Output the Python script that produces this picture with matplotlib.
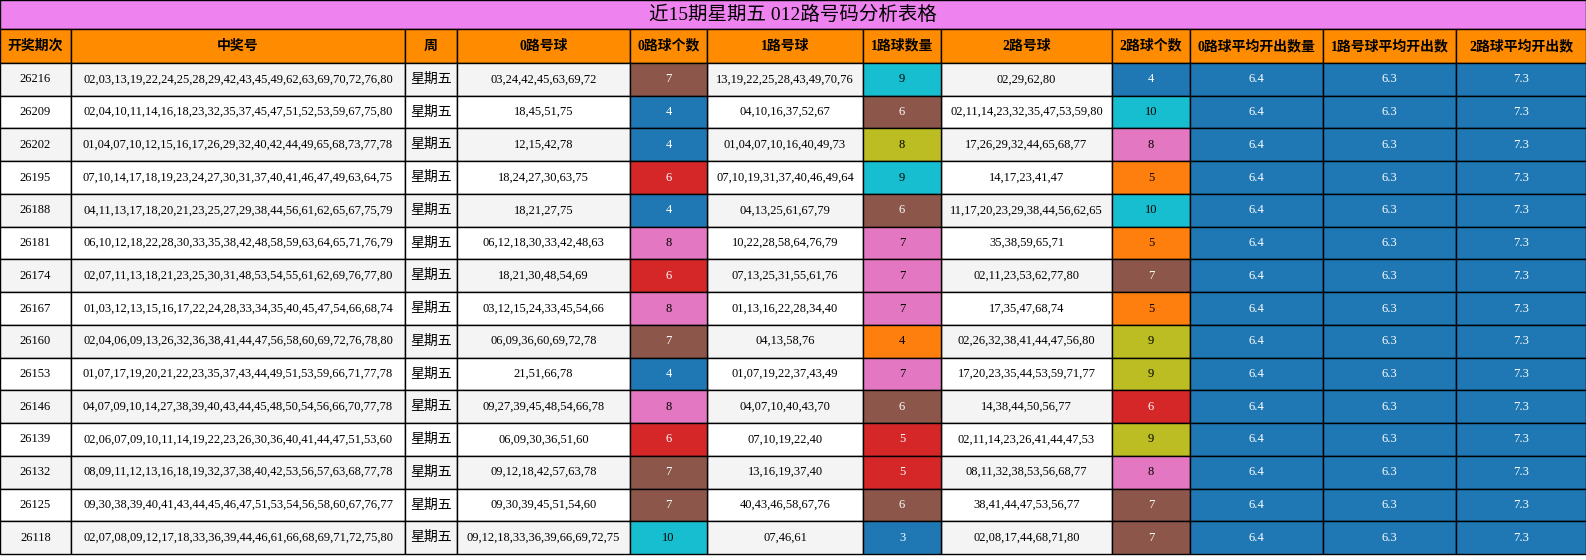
import numpy as np
import matplotlib.pyplot as plt
from matplotlib.patches import Rectangle

plt.rcParams['font.family'] = ['Liberation Serif', 'Noto Sans CJK SC', 'DejaVu Sans']

title = '近15期星期五 012路号码分析表格'
headers = ['开奖期次', '中奖号', '周', '0路号球', '0路球个数', '1路号球', '1路球数量',
           '2路号球', '2路球个数', '0路球平均开出数量', '1路号球平均开出数', '2路球平均开出数']

periods = ['26216', '26209', '26202', '26195', '26188', '26181', '26174', '26167',
           '26160', '26153', '26146', '26139', '26132', '26125', '26118']
draws = [
    '02,03,13,19,22,24,25,28,29,42,43,45,49,62,63,69,70,72,76,80',
    '02,04,10,11,14,16,18,23,32,35,37,45,47,51,52,53,59,67,75,80',
    '01,04,07,10,12,15,16,17,26,29,32,40,42,44,49,65,68,73,77,78',
    '07,10,14,17,18,19,23,24,27,30,31,37,40,41,46,47,49,63,64,75',
    '04,11,13,17,18,20,21,23,25,27,29,38,44,56,61,62,65,67,75,79',
    '06,10,12,18,22,28,30,33,35,38,42,48,58,59,63,64,65,71,76,79',
    '02,07,11,13,18,21,23,25,30,31,48,53,54,55,61,62,69,76,77,80',
    '01,03,12,13,15,16,17,22,24,28,33,34,35,40,45,47,54,66,68,74',
    '02,04,06,09,13,26,32,36,38,41,44,47,56,58,60,69,72,76,78,80',
    '01,07,17,19,20,21,22,23,35,37,43,44,49,51,53,59,66,71,77,78',
    '04,07,09,10,14,27,38,39,40,43,44,45,48,50,54,56,66,70,77,78',
    '02,06,07,09,10,11,14,19,22,23,26,30,36,40,41,44,47,51,53,60',
    '08,09,11,12,13,16,18,19,32,37,38,40,42,53,56,57,63,68,77,78',
    '09,30,38,39,40,41,43,44,45,46,47,51,53,54,56,58,60,67,76,77',
    '02,07,08,09,12,17,18,33,36,39,44,46,61,66,68,69,71,72,75,80',
]
weekday = '星期五'
road0 = ['03,24,42,45,63,69,72', '18,45,51,75', '12,15,42,78', '18,24,27,30,63,75',
         '18,21,27,75', '06,12,18,30,33,42,48,63', '18,21,30,48,54,69',
         '03,12,15,24,33,45,54,66', '06,09,36,60,69,72,78', '21,51,66,78',
         '09,27,39,45,48,54,66,78', '06,09,30,36,51,60', '09,12,18,42,57,63,78',
         '09,30,39,45,51,54,60', '09,12,18,33,36,39,66,69,72,75']
cnt0 = [7, 4, 4, 6, 4, 8, 6, 8, 7, 4, 8, 6, 7, 7, 10]
road1 = ['13,19,22,25,28,43,49,70,76', '04,10,16,37,52,67', '01,04,07,10,16,40,49,73',
         '07,10,19,31,37,40,46,49,64', '04,13,25,61,67,79', '10,22,28,58,64,76,79',
         '07,13,25,31,55,61,76', '01,13,16,22,28,34,40', '04,13,58,76',
         '01,07,19,22,37,43,49', '04,07,10,40,43,70', '07,10,19,22,40',
         '13,16,19,37,40', '40,43,46,58,67,76', '07,46,61']
cnt1 = [9, 6, 8, 9, 6, 7, 7, 7, 4, 7, 6, 5, 5, 6, 3]
road2 = ['02,29,62,80', '02,11,14,23,32,35,47,53,59,80', '17,26,29,32,44,65,68,77',
         '14,17,23,41,47', '11,17,20,23,29,38,44,56,62,65', '35,38,59,65,71',
         '02,11,23,53,62,77,80', '17,35,47,68,74', '02,26,32,38,41,44,47,56,80',
         '17,20,23,35,44,53,59,71,77', '14,38,44,50,56,77', '02,11,14,23,26,41,44,47,53',
         '08,11,32,38,53,56,68,77', '38,41,44,47,53,56,77', '02,08,17,44,68,71,80']
cnt2 = [4, 10, 8, 5, 10, 5, 7, 5, 9, 9, 6, 9, 8, 7, 7]
avg0, avg1, avg2 = 6.4, 6.3, 7.3

col_edges = [0, 71, 405, 457, 630, 707, 863, 941, 1112, 1190, 1323, 1456, 1586]
title_h, head_h = 29, 34
row_h = (560 - title_h - head_h - 6) / len(periods)

fig = plt.figure(figsize=(15.86, 5.6), dpi=100)
ax = fig.add_axes([0, 0, 1, 1])
ax.set_xlim(0, 1586)
ax.set_ylim(560, 0)
ax.axis('off')
cmap = plt.get_cmap('tab10')


def cell(x0, x1, y0, h, text, fc, tc='black', size=9, bold=False):
    ax.add_patch(Rectangle((x0, y0), x1 - x0, h, facecolor=fc, edgecolor='black', lw=1))
    ax.text((x0 + x1) / 2, y0 + h / 2, text, ha='center', va='center', color=tc,
            fontsize=size, fontweight='bold' if bold else 'normal')


def count_color(v, vals):
    lo, hi = min(vals), max(vals)
    t = 0 if hi == lo else (v - lo) / (hi - lo)
    c = cmap(min(int(t * 10), 9))
    lum = 0.299 * c[0] + 0.587 * c[1] + 0.114 * c[2]
    return c, ('black' if lum > 0.55 else 'white')


cell(0, 1586, 0, title_h, title, '#ee82ee', size=14)
for j, h in enumerate(headers):
    cell(col_edges[j], col_edges[j + 1], title_h, head_h, h, '#ff8c00', size=10, bold=True)

for i in range(len(periods)):
    y = title_h + head_h + i * row_h
    bg = '#f4f4f4' if i % 2 == 0 else 'white'
    plain = [periods[i], draws[i], weekday, road0[i], None, road1[i], None, road2[i], None]
    for j, txt in enumerate(plain):
        if txt is not None:
            cell(col_edges[j], col_edges[j + 1], y, row_h, txt, bg,
                 size=10 if j == 2 else 9)
    for j, (v, vals) in zip([4, 6, 8], [(cnt0[i], cnt0), (cnt1[i], cnt1), (cnt2[i], cnt2)]):
        fc, tc = count_color(v, vals)
        cell(col_edges[j], col_edges[j + 1], y, row_h, str(v), fc, tc)
    for j, v in zip([9, 10, 11], [avg0, avg1, avg2]):
        cell(col_edges[j], col_edges[j + 1], y, row_h, str(v), cmap(0), 'white')

fig.savefig('out.png', dpi=100)
